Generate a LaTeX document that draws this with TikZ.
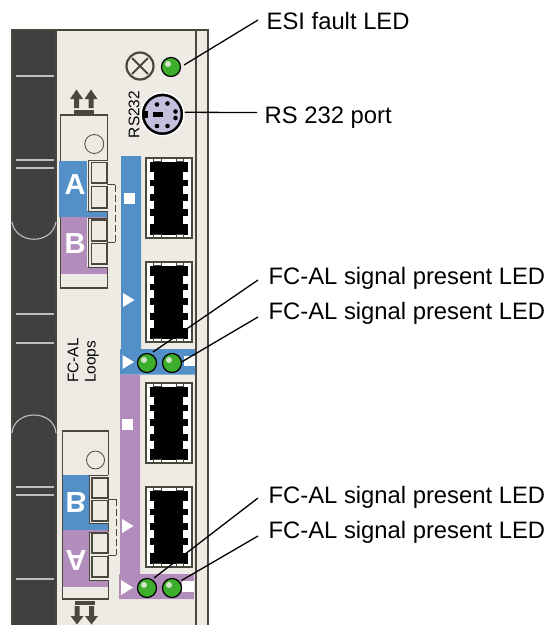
\documentclass[tikz,border=0pt]{standalone}
\usepackage{fontspec}
\setmainfont{Liberation Sans}
\definecolor{dark}{HTML}{404040}
\definecolor{cream}{HTML}{EEEBE4}
\definecolor{bluez}{HTML}{5490C8}
\definecolor{purp}{HTML}{B28DBB}
\definecolor{grn}{HTML}{3DAE2B}
\definecolor{lav}{HTML}{C5BFDD}
\definecolor{edge}{HTML}{4A473F}
\tikzset{
 x=1pt,y=-1pt,
 panelline/.style={draw=edge,line width=1.2pt},
 darkmark/.style={draw=black!25,line width=1.1pt},
 leader/.style={draw=black,line width=1.3pt},
 lbl/.style={anchor=base west,inner sep=0pt,font=\fontsize{23.8}{24}\selectfont},
 small/.style={inner sep=0pt,font=\fontsize{15.4}{15.4}\selectfont},
 letter/.style={inner sep=0pt,text=white,font=\fontsize{29}{29}\selectfont\bfseries},
 led/.style={circle,draw=black,line width=1.2pt,fill=grn,minimum size=19pt,inner sep=0pt},
 whitemark/.style={fill=white,draw=none},
 portbox/.style={draw=edge,line width=1.2pt,fill=cream},
 sock/.pic={
  \draw[fill=white,draw=edge,line width=1.1pt] (0,0) rectangle (46,80);
  \fill[black] (3.5,3.5) rectangle (42,77);
  \foreach \yy in {14,28,43,58}{
   \fill[white] (3.5,\yy) rectangle (7.7,\yy+7.6);
   \fill[white] (37.3,\yy) rectangle (42,\yy+7.6);}
  \draw[edge,line width=.8pt] (7,0) rectangle (15,3.5) (30,0) rectangle (37,3.5);
  \draw[edge,line width=.8pt] (7,76.5) rectangle (15,80) (30,76.5) rectangle (37,80);
 }
}
\begin{document}
\begin{tikzpicture}
\useasboundingbox (0,0) rectangle (550,625);
% panel
\fill[cream] (12,30) rectangle (208,625);
\fill[dark] (12,30) rectangle (56,625);
\draw[panelline] (12,625) -- (12,30) -- (208,30) -- (208,625);
\draw[panelline] (56,30) -- (56,625);
\draw[panelline] (196,30) -- (196,625);
\foreach \yy in {76,160,168,314,343,487,495,579}
  \draw[darkmark] (16,\yy) -- (54,\yy);
\draw[darkmark] (12,222) .. controls (16,245) and (52,245) .. (56,222);
\draw[darkmark] (12,433) .. controls (14,409) and (54,409) .. (56,433);
% ESI symbol
\draw[edge,line width=2.2pt] (140,66) circle (13.5);
\draw[edge,line width=2pt] (132,58) -- (148,74) (148,58) -- (132,74);
% RS232 port
\node[circle,draw=white,line width=1.5pt,fill=black,minimum size=43pt,inner sep=0pt] (portouter) at (162.5,114.3) {};
\node[circle,fill=lav,minimum size=36pt,inner sep=0pt] (port) at (162.5,114.3) {};
\fill[black] (143,111) rectangle (148,118);
\fill[black] (153,112) rectangle (163,117);
\foreach \px/\py in {157/104.5,167.5/103.5,157/126,167.5/126,175.5/111.5,175.5/118}
  \fill[black] (\px,\py) circle (2.3);
\node[small,rotate=90] (rs) at (134,114.5) {RS232};
% upper module
\draw[edge,line width=1.1pt,fill=cream] (60.5,115) rectangle (107.5,288);
\draw[edge,line width=.8pt] (94.3,144) circle (9.5);
\fill[bluez] (59,161) rectangle (87,217) (87,211) rectangle (107,217);
\fill[purp] (60.5,217) rectangle (107,274);
\fill[cream] (87,160) rectangle (108,211);
\fill[cream] (87,218) rectangle (108,267);
\draw[edge,line width=.9pt] (108,160) -- (88.5,160) -- (88.5,211) -- (108,211);
\draw[edge,line width=.9pt] (108,218) -- (88.5,218) -- (88.5,267) -- (108,267);
\draw[portbox] (91.5,162.5) rectangle (107,183);
\draw[portbox] (91.5,186.5) rectangle (107,208);
\draw[portbox] (91.5,220) rectangle (107,241);
\draw[portbox] (91.5,243.5) rectangle (107,264);
\draw[edge,line width=.9pt] (107,184.5) -- (115,184.5);
\draw[edge,line width=.9pt,dash pattern=on 7pt off 3pt] (115,184.5) -- (115,242);
\draw[edge,line width=.9pt] (115,242) -- (107,242);
\node[letter] (lA) at (75,185) {A};
\node[letter] (lB) at (75,243.5) {B};
% top arrows
\fill[edge] (74,110) rectangle (94,114);
\foreach \ax in {76.5,91}
  \fill[edge] (\ax,89.5) -- (\ax+6.5,99) -- (\ax+2.5,99) -- (\ax+2.5,108) -- (\ax-2.5,108) -- (\ax-2.5,99) -- (\ax-6.5,99) -- cycle;
% lower module
\draw[edge,line width=1.1pt,fill=cream] (62.5,431) rectangle (108.5,599);
\draw[edge,line width=.8pt] (95.5,460) circle (9);
\fill[bluez] (63,475) rectangle (108,530);
\fill[purp] (63,530) rectangle (108,587);
\fill[cream] (89,475) rectangle (109,523);
\fill[cream] (89,532) rectangle (109,580);
\draw[edge,line width=.9pt] (108,475) -- (89.5,475) -- (89.5,523) -- (108,523);
\draw[edge,line width=.9pt] (108,532) -- (89.5,532) -- (89.5,580) -- (108,580);
\draw[portbox] (92,478) rectangle (108,498);
\draw[portbox] (92,500.5) rectangle (108,521);
\draw[portbox] (92,533.5) rectangle (108,553);
\draw[portbox] (92,556.5) rectangle (108,577);
\draw[edge,line width=.9pt] (108,499) -- (116,499);
\draw[edge,line width=.9pt,dash pattern=on 7pt off 3pt] (116,499) -- (116,555);
\draw[edge,line width=.9pt] (116,555) -- (108,555);
\node[letter,yscale=-1] (lB2) at (76,502) {B};
\node[letter,yscale=-1] (lA2) at (76,560) {A};
% bottom arrows
\fill[edge] (75,601) rectangle (94.5,605);
\foreach \ax in {77,91.5}
  \fill[edge] (\ax,624.5) -- (\ax+6.5,616) -- (\ax+2.5,616) -- (\ax+2.5,606) -- (\ax-2.5,606) -- (\ax-2.5,616) -- (\ax-6.5,616) -- cycle;
% colour bars
\fill[bluez] (121,156) rectangle (141,349) (120,349) rectangle (195,374.5);
\fill[purp] (120,374.5) rectangle (140,574) (119,574) rectangle (194,599);
\fill[whitemark] (124,193) rectangle (135,204);
\fill[whitemark] (123,293) -- (134.5,300) -- (123,307) -- cycle;
\fill[whitemark] (122.5,355) -- (134,362) -- (122.5,369) -- cycle;
\fill[whitemark] (184,356) rectangle (195,366);
\fill[whitemark] (122,419) rectangle (133,430);
\fill[whitemark] (122,519) -- (133.5,526) -- (122,533) -- cycle;
\fill[whitemark] (121,580) -- (133,587.5) -- (121,595) -- cycle;
\fill[whitemark] (182,581) rectangle (193.5,592);
% sockets
\pic at (146,158) {sock};
\pic at (146,262) {sock};
\pic at (146,383) {sock};
\pic at (146,487) {sock};
% texts
\node[small,rotate=90,anchor=west] (fc) at (73,383) {FC-AL};
\node[small,rotate=90,anchor=west] (lo) at (92,383) {Loops};
% LEDs
\node[led] (esi) at (171,67) {};
\node[led] (l1) at (147,363) {};
\node[led] (l2) at (172,363) {};
\node[led] (l3) at (147,588) {};
\node[led] (l4) at (172,588) {};
\foreach \n in {esi,l1,l2,l3,l4}
  \fill[cream!85!grn] ([shift={(-3,-3)}]\n.center) circle (3);
% labels
\node[lbl] (t1) at (266.5,29) {ESI fault LED};
\node[lbl] (t2) at (264.5,123) {RS 232 port};
\node[lbl] (t3) at (268.5,284.5) {FC-AL signal present LED};
\node[lbl] (t4) at (268.5,319.5) {FC-AL signal present LED};
\node[lbl] (t5) at (268.5,503.5) {FC-AL signal present LED};
\node[lbl] (t6) at (268.5,538.5) {FC-AL signal present LED};
% leaders
\coordinate (e1) at (258,20);
\coordinate (e2) at (257,112.5);
\coordinate (e3) at (258,280);
\coordinate (e4) at (258,317);
\coordinate (e5) at (258,498);
\coordinate (e6) at (258,536);
\draw[leader] ([shift={(3,-2)}]esi.east) -- (e1);
\draw[leader] (portouter.east) ++(0,-2) -- (e2);
\draw[leader] ([shift={(6,-11)}]l1.center) -- (e3);
\draw[leader] ([shift={(9.5,-1)}]l2.center) -- (e4);
\draw[leader] ([shift={(7,-10)}]l3.center) -- (e5);
\draw[leader] ([shift={(9.5,-7.5)}]l4.center) -- (e6);
\end{tikzpicture}
\end{document}
